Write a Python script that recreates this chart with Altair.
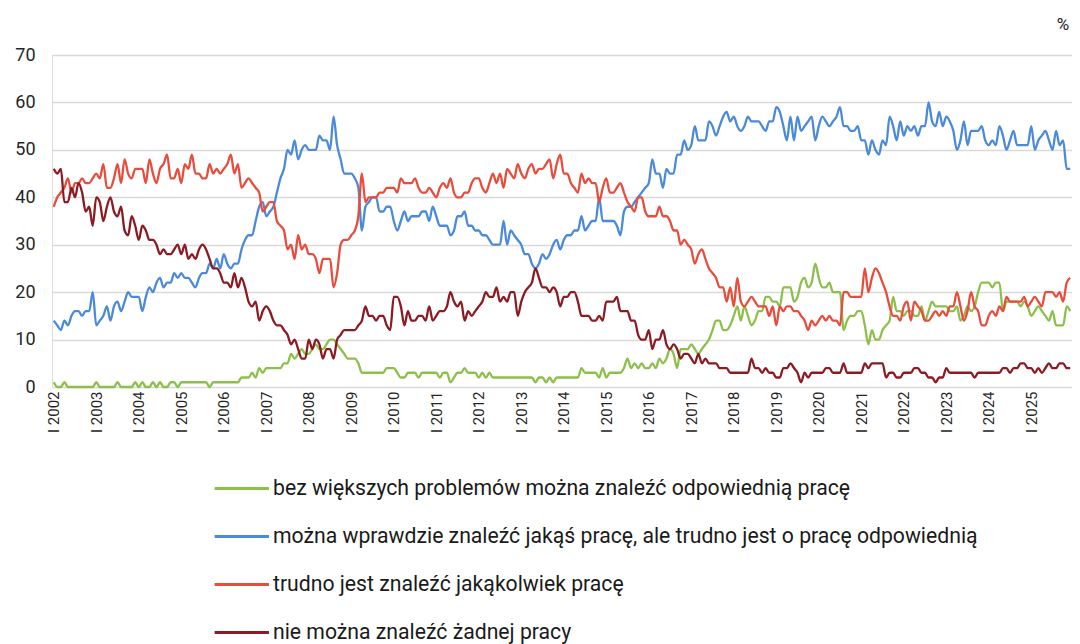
import altair as alt
import pandas as pd

series_names = [
    "bez większych problemów można znaleźć odpowiednią pracę",
    "można wprawdzie znaleźć jakąś pracę, ale trudno jest o pracę odpowiednią",
    "trudno jest znaleźć jakąkolwiek pracę",
    "nie można znaleźć żadnej pracy",
]
colors = ["#8dbf4b", "#4a8ad8", "#e84c3d", "#8b1a22"]

first_year = 2002
years = list(range(2002, 2026))

green = [
    1, 0, 0, 1, 0, 0, 0, 0, 0, 0, 0, 0,
    1, 0, 0, 0, 0, 0, 1, 0, 0, 0, 0, 1,
    0, 1, 0, 0, 1, 0, 1, 0, 0, 1, 1, 0,
    1, 1, 1, 1, 1, 1, 1, 1, 0, 1, 1, 1,
    1, 1, 1, 1, 1, 2, 2, 2, 3, 2, 4, 3,
    4, 4, 4, 4, 4, 5, 5, 7, 6, 7, 8, 7,
    7, 8, 9, 8, 8, 9, 10, 10, 9, 8, 7, 6,
    6, 6, 5, 3, 3, 3, 3, 3, 3, 3, 4, 4,
    4, 3, 2, 2, 3, 3, 3, 2, 3, 3, 3, 3,
    3, 2, 3, 3, 1, 2, 3, 3, 4, 3, 3, 3,
    2, 3, 2, 3, 2, 2, 2, 2, 2, 2, 2, 2,
    2, 2, 2, 2, 1, 2, 2, 1, 2, 1, 2, 2,
    2, 2, 2, 2, 2, 4, 3, 3, 3, 3, 2, 4,
    2, 3, 3, 3, 3, 4, 6, 4, 5, 4, 5, 4,
    4, 5, 4, 6, 5, 6, 8, 7, 4, 8, 8, 8,
    9, 8, 7, 8, 9, 10, 12, 14, 14, 12, 12, 13,
    15, 17, 14, 17, 15, 13, 14, 16, 16, 19, 19, 18,
    18, 17, 21, 21, 21, 18, 19, 22, 23, 21, 22, 26,
    23, 21, 21, 22, 20, 20, 20, 12, 14, 15, 15, 16,
    16, 13, 9, 12, 10, 10, 12, 13, 14, 19, 16, 16,
    15, 16, 16, 15, 15, 17, 14, 16, 18, 17, 17, 17,
    17, 16, 16, 17, 14, 15, 17, 16, 17, 20, 22, 22,
    22, 21, 22, 22, 16, 18, 18, 18, 18, 17, 18, 17,
    15, 16, 17, 16, 15, 14, 16, 13, 13, 13, 17, 16,
]

blue = [
    14, 13, 12, 14, 13, 15, 16, 16, 15, 16, 16, 20,
    13, 14, 15, 17, 14, 17, 18, 16, 18, 20, 19, 19,
    19, 16, 19, 21, 20, 22, 23, 21, 22, 22, 24, 23,
    24, 23, 23, 22, 21, 23, 24, 24, 26, 25, 27, 25,
    28, 26, 25, 26, 26, 29, 31, 32, 32, 35, 38, 39,
    36, 37, 38, 41, 44, 46, 50, 49, 52, 48, 50, 51,
    50, 50, 50, 53, 52, 52, 50, 57, 51, 48, 45, 45,
    45, 44, 42, 33, 38, 39, 40, 40, 37, 37, 38, 38,
    35, 33, 35, 37, 35, 36, 36, 36, 37, 37, 35, 38,
    36, 34, 34, 34, 32, 33, 36, 36, 37, 34, 34, 33,
    33, 32, 32, 31, 30, 30, 30, 35, 30, 33, 32, 31,
    30, 28, 28, 26, 25, 26, 28, 27, 28, 30, 31, 29,
    31, 32, 32, 33, 33, 36, 33, 34, 35, 35, 40, 35,
    35, 35, 35, 34, 32, 37, 38, 38, 39, 40, 41, 42,
    43, 48, 45, 45, 42, 46, 45, 45, 49, 49, 52, 50,
    51, 55, 52, 52, 52, 56, 55, 53, 55, 57, 58, 56,
    57, 55, 54, 55, 57, 56, 56, 56, 55, 54, 56, 56,
    59, 58, 55, 52, 57, 52, 57, 54, 55, 56, 57, 52,
    55, 57, 56, 55, 56, 57, 59, 55, 55, 54, 54, 55,
    52, 52, 49, 52, 50, 49, 52, 51, 57, 55, 52, 56,
    53, 55, 54, 55, 53, 55, 55, 60, 56, 55, 58, 55,
    57, 56, 54, 50, 52, 56, 51, 54, 54, 54, 55, 52,
    51, 52, 51, 55, 53, 50, 52, 54, 51, 51, 51, 51,
    55, 50, 52, 53, 54, 52, 50, 54, 51, 52, 46, 46,
]

red = [
    38, 40, 41, 42, 44, 41, 43, 43, 44, 43, 43, 44,
    45, 44, 47, 42, 42, 44, 47, 43, 48, 45, 44, 46,
    46, 46, 43, 48, 45, 43, 46, 47, 49, 44, 44, 46,
    43, 47, 46, 49, 45, 45, 44, 44, 47, 45, 46, 45,
    46, 47, 49, 45, 47, 42, 43, 44, 43, 42, 41, 37,
    38, 39, 39, 35, 34, 33, 29, 30, 27, 32, 29, 30,
    28, 28, 27, 24, 27, 27, 27, 21, 24, 30, 31, 31,
    32, 33, 36, 45, 39, 40, 40, 40, 41, 41, 42, 42,
    42, 41, 44, 43, 43, 43, 44, 42, 41, 41, 42, 41,
    40, 42, 43, 42, 44, 41, 40, 40, 41, 41, 43, 44,
    44, 42, 41, 43, 45, 43, 45, 42, 46, 45, 44, 47,
    45, 44, 46, 47, 45, 46, 46, 47, 48, 44, 47, 49,
    45, 45, 43, 42, 41, 45, 43, 44, 43, 43, 39, 42,
    44, 41, 41, 42, 43, 41, 39, 38, 37, 40, 40, 37,
    36, 36, 36, 38, 36, 36, 35, 33, 33, 30, 31, 30,
    29, 26, 28, 29, 27, 25, 24, 23, 21, 21, 18, 21,
    17, 23, 18, 17, 18, 19, 18, 17, 17, 17, 15, 17,
    13, 17, 16, 17, 17, 16, 16, 15, 14, 12, 14, 13,
    14, 15, 14, 15, 14, 14, 13, 20, 20, 19, 19, 19,
    19, 25, 20, 23, 25, 24, 22, 20, 17, 15, 15, 14,
    17, 18, 14, 18, 17, 16, 14, 14, 15, 16, 15, 16,
    15, 17, 17, 20, 17, 14, 16, 20, 17, 16, 13, 13,
    15, 16, 15, 17, 16, 19, 18, 18, 18, 18, 19, 17,
    18, 19, 18, 17, 20, 20, 20, 19, 20, 18, 22, 23,
]

maroon = [
    46, 45, 46, 39, 39, 42, 40, 43, 41, 37, 38, 34,
    40, 39, 35, 38, 40, 37, 36, 38, 33, 32, 36, 34,
    31, 34, 33, 31, 31, 30, 28, 29, 28, 28, 29, 30,
    28, 30, 27, 28, 27, 29, 30, 29, 27, 25, 25, 24,
    22, 22, 21, 24, 21, 23, 21, 18, 17, 18, 14, 16,
    17, 16, 14, 13, 13, 12, 11, 9, 10, 8, 6, 6,
    10, 8, 10, 9, 6, 8, 8, 6, 10, 11, 12, 12,
    12, 12, 13, 14, 17, 15, 15, 14, 15, 15, 13, 12,
    19, 19, 17, 13, 16, 14, 14, 15, 15, 14, 17, 14,
    15, 16, 16, 17, 20, 18, 17, 18, 14, 16, 15, 16,
    17, 18, 20, 19, 19, 21, 18, 19, 18, 20, 20, 15,
    18, 20, 21, 22, 25, 23, 21, 21, 20, 21, 20, 17,
    19, 19, 20, 20, 18, 15, 15, 15, 14, 14, 15, 14,
    18, 18, 18, 19, 16, 16, 16, 14, 14, 11, 10, 10,
    12, 8, 10, 10, 12, 9, 8, 9, 8, 6, 7, 7,
    6, 5, 7, 5, 6, 5, 5, 5, 4, 4, 4, 3,
    3, 3, 3, 3, 3, 6, 4, 4, 3, 4, 3, 3,
    2, 2, 4, 4, 5, 4, 3, 1, 3, 2, 3, 3,
    3, 3, 4, 4, 3, 3, 3, 5, 3, 3, 3, 3,
    3, 5, 4, 5, 5, 5, 5, 2, 3, 3, 2, 2,
    3, 3, 3, 4, 4, 3, 3, 2, 2, 1, 2, 2,
    4, 3, 3, 3, 3, 3, 3, 3, 2, 3, 3, 3,
    3, 3, 3, 3, 4, 4, 3, 4, 4, 5, 5, 4,
    4, 3, 4, 3, 4, 5, 4, 4, 5, 5, 4, 4,
]

n_months = len(years) * 12
all_series = [green, blue, red, maroon]
for s in all_series:
    assert len(s) == n_months, len(s)

rows = []
for name, vals in zip(series_names, all_series):
    for i, v in enumerate(vals):
        rows.append({"m": i, "seria": name, "v": v})
df = pd.DataFrame(rows)

tick_vals = [12 * k for k in range(len(years))]
FONT = "Roboto"

lines = alt.Chart(df).mark_line(strokeWidth=2.3, interpolate="monotone").encode(
    x=alt.X(
        "m:Q",
        scale=alt.Scale(domain=[-0.5, n_months - 0.5], nice=False, zero=False),
        axis=alt.Axis(
            values=tick_vals,
            labelExpr=f"'I ' + ({first_year} + round(datum.value / 12))",
            labelAngle=270,
            labelAlign="right",
            labelBaseline="middle",
            labelFlush=False,
            labelOverlap=False,
            grid=False,
            ticks=False,
            domain=False,
            labelFontSize=15,
            labelPadding=4,
            labelColor="#262626",
            labelFont=FONT,
            title=None,
        ),
    ),
    y=alt.Y(
        "v:Q",
        scale=alt.Scale(domain=[0, 70], nice=False),
        axis=alt.Axis(
            values=list(range(0, 80, 10)),
            grid=True,
            gridColor="#d9d9d9",
            gridWidth=1.3,
            domain=False,
            ticks=False,
            labelFontSize=18,
            labelPadding=17,
            labelColor="#262626",
            labelFont=FONT,
            title=None,
        ),
    ),
    color=alt.Color(
        "seria:N",
        sort=series_names,
        scale=alt.Scale(domain=series_names, range=colors),
        legend=alt.Legend(
            title=None,
            orient="none",
            legendX=161,
            legendY=421,
            direction="vertical",
            symbolType="M-1,0H4",
            symbolSize=472,
            symbolStrokeWidth=3,
            labelFontSize=21.2,
            labelFont=FONT,
            labelColor="#1a1a1a",
            labelOffset=35,
            rowPadding=25,
            padding=0,
            labelLimit=1000,
        ),
    ),
)

pct = alt.Chart(pd.DataFrame({"t": ["%"]})).mark_text(
    font=FONT, fontSize=17, color="#262626", align="center", baseline="middle"
).encode(text="t:N", x=alt.value(1011), y=alt.value(-30))

chart = alt.layer(lines, pct).properties(
    width=1020,
    height=332,
    autosize=alt.AutoSizeParams(type="none"),
    padding={"left": 44, "top": 47, "right": 0, "bottom": 257},
).configure_view(stroke=None).configure(font=FONT)

chart.save("out.html", embed_options={"renderer": "svg", "actions": False})
